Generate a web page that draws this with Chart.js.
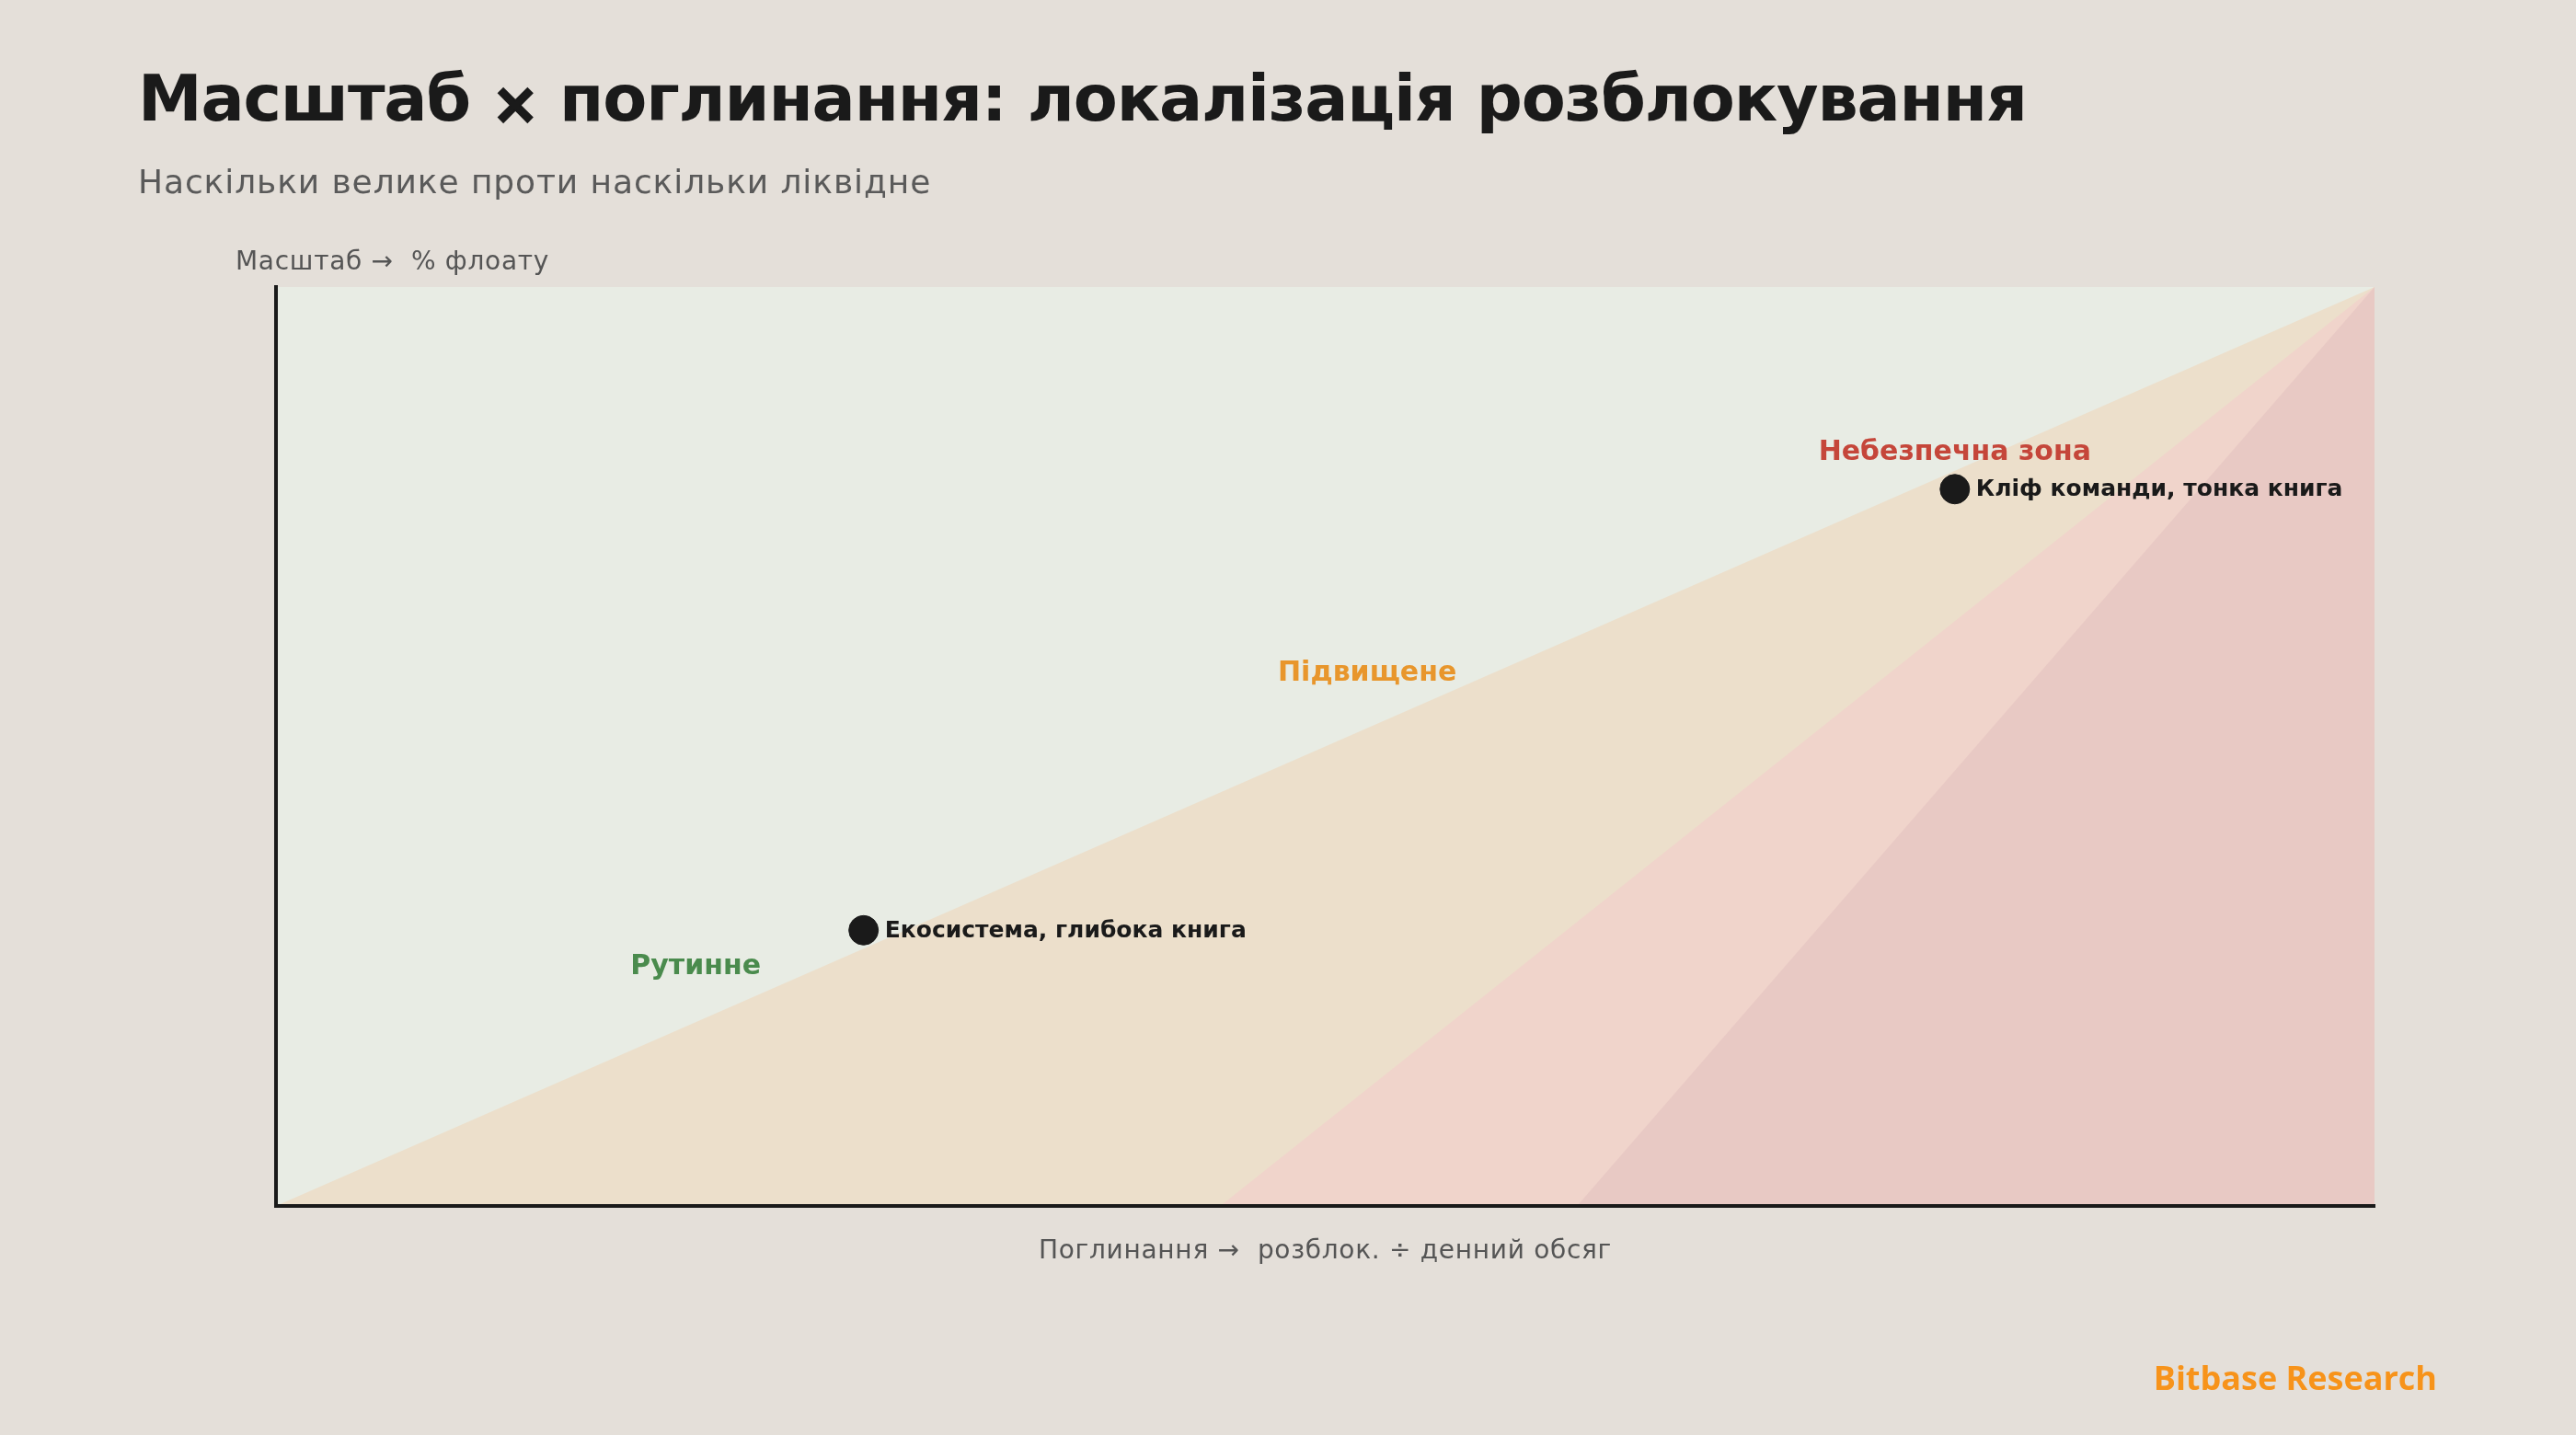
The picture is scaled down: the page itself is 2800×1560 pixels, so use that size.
<!DOCTYPE html>
<html>
<head>
<meta charset="utf-8">
<script src="https://cdn.jsdelivr.net/npm/chart.js@4.4.1/dist/chart.umd.min.js"></script>
<style>
  html, body { margin: 0; padding: 0; background: #e4dfd9; }
  #wrap { position: relative; width: 2800px; height: 1560px; overflow: hidden; background: #e4dfd9; font-family: "DejaVu Sans", sans-serif; }
  #chartBox { position: absolute; left: 0; top: 0; width: 2800px; height: 1560px; }
  #title { position: absolute; left: 150px; top: 72px; font-size: 70px; line-height: 70px; font-weight: bold; letter-spacing: -1.2px; color: #1a1a1a; white-space: nowrap; }
  #title .x { font-size: 62px; position: relative; top: 3px; -webkit-text-stroke: 2px #1a1a1a; }
  #subtitle { position: absolute; left: 150px; top: 180px; font-size: 36px; line-height: 36px; letter-spacing: 0.9px; color: #5a5a5a; white-space: nowrap; }
  #brand { position: absolute; right: 151px; top: 1480px; font-family: "Open Sans", sans-serif; font-weight: 700; font-size: 36px; line-height: 36px; color: #f7931a; white-space: nowrap; }
</style>
</head>
<body>
<div id="wrap">
  <div id="chartBox"><canvas id="c"></canvas></div>
  <div id="title">Масштаб <span class="x">×</span> поглинання: локалізація розблокування</div>
  <div id="subtitle">Наскільки велике проти наскільки ліквідне</div>
  <div id="brand">Bitbase Research</div>
</div>
<script>
// ---- data ----
const pointNames = ['Екосистема, глибока книга', 'Кліф команди, тонка книга'];
const absorption = [0.28, 0.80];   // x: розблок. ÷ денний обсяг (normalised)
const scaleFloat = [0.30, 0.78];   // y: % флоату (normalised)

const zoneNames = ['Рутинне', 'Підвищене', 'Небезпечна зона'];
const zoneLabelX = [0.20, 0.52, 0.80];
const zoneLabelY = [0.252, 0.572, 0.812];
// zone boundaries: lines from (start, 0) to the top-right corner (1, 1)
const zoneStartX = [0, 0.45, 0.62];
const cornerX = 1, cornerY = 1;

const xTitle = 'Поглинання →  розблок. ÷ денний обсяг';
const yTitle = 'Масштаб →  % флоату';

// ---- styles ----
const zoneFill = ['#ecdfcb', '#f0d4cb', '#e8c9c4'];
const baseFill = '#e8ece4';
const zoneTextColors = ['#4a8b4d', '#e8962c', '#c5463a'];
const FONT = '"DejaVu Sans", sans-serif';

const datasets = [];
// base (green) region over whole plot
datasets.push({
  type: 'line', data: [{x: 0, y: cornerY}, {x: cornerX, y: cornerY}],
  fill: 'origin', backgroundColor: baseFill, borderWidth: 0, pointRadius: 0, order: 10
});
zoneStartX.forEach((sx, i) => {
  datasets.push({
    type: 'line', data: [{x: sx, y: 0}, {x: cornerX, y: cornerY}],
    fill: 'origin', backgroundColor: zoneFill[i], borderWidth: 0, pointRadius: 0, order: 9 - i
  });
});
datasets.push({
  type: 'scatter',
  data: absorption.map((x, i) => ({x: x, y: scaleFloat[i]})),
  backgroundColor: '#1a1a1a', borderColor: '#1a1a1a', borderWidth: 1,
  pointRadius: 16, pointHoverRadius: 16, order: 1
});

const labelPlugin = {
  id: 'labels',
  afterDatasetsDraw(chart) {
    const {ctx, chartArea, scales} = chart;
    const xs = scales.x, ys = scales.y;
    ctx.save();
    // zone labels
    ctx.font = 'bold 30px ' + FONT;
    ctx.textAlign = 'center';
    ctx.textBaseline = 'alphabetic';
    zoneNames.forEach((n, i) => {
      ctx.fillStyle = zoneTextColors[i];
      ctx.fillText(n, xs.getPixelForValue(zoneLabelX[i]), ys.getPixelForValue(zoneLabelY[i]));
    });
    // point labels
    ctx.font = 'bold 25px ' + FONT;
    ctx.textAlign = 'left';
    ctx.textBaseline = 'middle';
    ctx.fillStyle = '#1a1a1a';
    pointNames.forEach((n, i) => {
      ctx.fillText(n, xs.getPixelForValue(absorption[i]) + 23, ys.getPixelForValue(scaleFloat[i]) + 1);
    });
    // axis titles
    ctx.font = '28px ' + FONT;
    if ('letterSpacing' in ctx) ctx.letterSpacing = '0.7px';
    ctx.fillStyle = '#555555';
    ctx.textBaseline = 'alphabetic';
    ctx.textAlign = 'center';
    ctx.fillText(xTitle, (chartArea.left + chartArea.right) / 2, chartArea.bottom + 57);
    ctx.textAlign = 'left';
    ctx.fillText(yTitle, chartArea.left - 44, chartArea.top - 19);
    ctx.restore();
  }
};

const axisCommon = {
  type: 'linear', min: 0, max: 1, z: 1,
  ticks: { display: false },
  grid: { display: false, drawTicks: false },
  border: { display: true, color: '#1a1a1a', width: 4, z: 1 },
  title: { display: false }
};

new Chart(document.getElementById('c'), {
  type: 'scatter',
  data: { datasets },
  options: {
    responsive: true, maintainAspectRatio: false, animation: false,
    layout: { padding: { left: 300, top: 312, right: 219, bottom: 249 } },
    plugins: { legend: { display: false }, tooltip: { enabled: false }, title: { display: false } },
    events: [],
    scales: {
      x: Object.assign({}, axisCommon, { position: 'bottom', afterFit(s) { s.height = 0; } }),
      y: Object.assign({}, axisCommon, { position: 'left', afterFit(s) { s.width = 0; } })
    }
  },
  plugins: [labelPlugin]
});
</script>
</body>
</html>
